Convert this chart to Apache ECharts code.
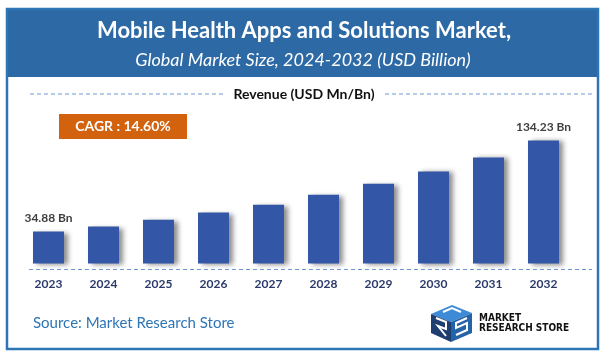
<!DOCTYPE html>
<html>
<head>
<meta charset="utf-8">
<script src="https://cdn.jsdelivr.net/npm/echarts@6/dist/echarts.min.js"></script>
<style>
html,body{margin:0;padding:0;background:#fff;}
#c{width:606px;height:358px;}
</style>
</head>
<body>
<div id="c"></div>
<script>
var categories = ['2023','2024','2025','2026','2027','2028','2029','2030','2031','2032'];
var revenue = [34.88, 40.3, 47.6, 55.6, 64.0, 74.9, 86.9, 100.4, 115.7, 134.23];
var valueLabels = ['34.88 Bn', '', '', '', '', '', '', '', '', '134.23 Bn'];
var titleText = 'Mobile Health Apps and Solutions Market,';
var subtitleText = 'Global Market Size, 2024-2032 (USD Billion)';
var legendText = 'Revenue (USD Mn/Bn)';
var cagrText = 'CAGR : 14.60%';
var sourceText = 'Source: Market Research Store';

var FONT = 'Lato, "Open Sans", sans-serif';
var chart = echarts.init(document.getElementById('c'), null, {renderer:'canvas'});

var barData = revenue.map(function(v, i){
  var item = {value: v};
  if (valueLabels[i]) {
    item.label = {show:true, position:'top', distance:7, formatter: valueLabels[i],
      color:'#404040', fontSize:12, fontWeight:'bold', fontFamily:FONT};
  }
  return item;
});

var dash = {stroke:'#6E97D4', lineWidth:1, lineDash:[4,3]};

chart.setOption({
  backgroundColor:'#ffffff',
  animation:false,
  grid:{left:21, right:35, top:126, bottom:89, containLabel:false},
  xAxis:{
    type:'category', data:categories,
    axisLine:{show:false}, axisTick:{show:false},
    axisLabel:{color:'#2B3A6B', fontWeight:'bold', fontSize:12, fontFamily:FONT, margin:9}
  },
  yAxis:{type:'value', min:-6, max:150, show:false, splitLine:{show:false}},
  series:[{
    type:'bar', data:barData, barWidth:31,
    itemStyle:{color:'#3357A6', shadowColor:'rgba(0,0,0,0.45)', shadowBlur:5, shadowOffsetX:4, shadowOffsetY:1}
  }],
  graphic:[
    {type:'rect', shape:{x:7, y:9, width:591, height:340}, style:{fill:'none', stroke:'#2E75B6', lineWidth:2.5}, z:10},
    {type:'rect', shape:{x:7, y:9, width:591, height:68}, style:{fill:'#2C69A5'}, z:5},
    {type:'text', x:304, y:31, style:{text:titleText, fill:'#ffffff', font:'bold 22px '+FONT, textAlign:'center', textVerticalAlign:'middle'}, z:11},
    {type:'text', x:303, y:60, style:{text:subtitleText, fill:'#ffffff', font:'italic 18px '+FONT, textAlign:'center', textVerticalAlign:'middle'}, z:11},
    {type:'line', shape:{x1:30, y1:94, x2:224, y2:94}, style:dash},
    {type:'line', shape:{x1:385, y1:94, x2:592, y2:94}, style:dash},
    {type:'text', x:304, y:94, style:{text:legendText, fill:'#111111', font:'bold 14px '+FONT, textAlign:'center', textVerticalAlign:'middle'}},
    {type:'line', shape:{x1:29, y1:269.5, x2:592, y2:269.5}, style:dash, z:20},
    {type:'rect', shape:{x:59, y:114, width:128, height:25}, style:{fill:'#D2620E'}},
    {type:'text', x:123, y:126.5, style:{text:cagrText, fill:'#ffffff', font:'bold 14px '+FONT, textAlign:'center', textVerticalAlign:'middle'}},
    {type:'text', x:33, y:323, style:{text:sourceText, fill:'#2E75B6', font:'15px '+FONT, textVerticalAlign:'middle'}},
    // logo cube
    {type:'polygon', shape:{points:[[431,314],[452,305],[472,313],[451,322]]}, style:{fill:'#3D8BD6'}},
    {type:'polygon', shape:{points:[[431,314],[451,322],[451,342],[431,333]]}, style:{fill:'#1F3E70'}},
    {type:'polygon', shape:{points:[[451,322],[472,313],[472,333],[451,342]]}, style:{fill:'#2563A8'}},
    {type:'polyline', shape:{points:[[436,318],[446,322],[446,329],[438,326],[446,336]]}, style:{stroke:'#ffffff', lineWidth:2, fill:'none'}},
    {type:'polyline', shape:{points:[[467,318],[456,323],[456,328],[467,323],[467,330],[456,335]]}, style:{stroke:'#ffffff', lineWidth:2, fill:'none'}},
    {type:'polyline', shape:{points:[[443,312],[452,308],[461,312]]}, style:{stroke:'#ffffff', lineWidth:2, fill:'none'}},
    {type:'text', x:479, y:318, style:{text:'MARKET', fill:'#111111', font:'bold 10px "Liberation Sans Narrow", "DejaVu Sans Condensed", sans-serif', textVerticalAlign:'middle'}},
    {type:'text', x:479, y:328, style:{text:'RESEARCH STORE', fill:'#111111', font:'bold 10px "Liberation Sans Narrow", "DejaVu Sans Condensed", sans-serif', textVerticalAlign:'middle'}}
  ]
});
</script>
</body>
</html>
